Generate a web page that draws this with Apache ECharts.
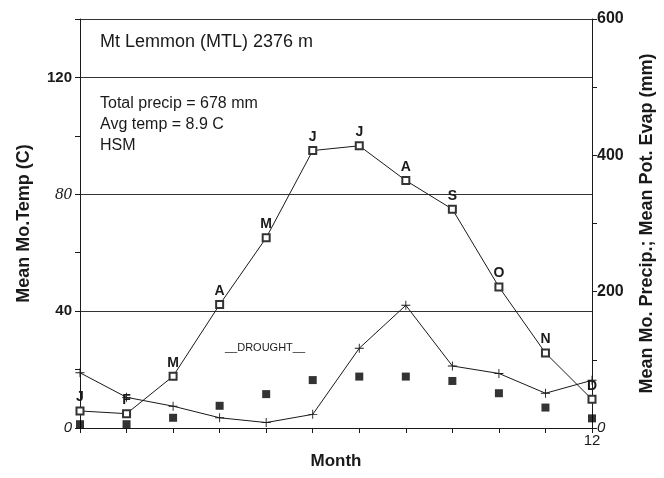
<!DOCTYPE html>
<html>
<head>
<meta charset="utf-8">
<script src="https://cdn.jsdelivr.net/npm/echarts@6/dist/echarts.min.js"></script>
<style>
html, body { margin: 0; padding: 0; background: #fff; }
#chart { width: 664px; height: 478px; }
</style>
</head>
<body>
<div id="chart"></div>
<script>
// months 1..12 and the letters drawn over the evap points
var months = [1, 2, 3, 4, 5, 6, 7, 8, 9, 10, 11, 12];
var monthLetters = ['J', 'F', 'M', 'A', 'M', 'J', 'J', 'A', 'S', 'O', 'N', 'D'];
// mean monthly temperature (C), left axis
var temp = [1.3, 1.3, 3.5, 7.6, 11.6, 16.4, 17.6, 17.6, 16.1, 11.9, 7.0, 3.3];
// mean monthly precipitation (mm), right axis
var precip = [81, 45, 32, 15, 8, 20, 117, 180, 91, 80, 51, 70];
// mean potential evapotranspiration (mm), right axis
var potEvap = [25, 21, 76, 181, 279, 407, 414, 363, 321, 207, 110, 42];
// tick labels that are printed
var tempLabels = [0, 40, 80, 120];
var mmLabels = [0, 200, 400, 600];

var font = 'Liberation Sans, Arial, Helvetica, sans-serif';
var ink = '#1a1a1a';

function pairs(vals) {
	return months.map(function (m, i) { return [m, vals[i]]; });
}

var chart = echarts.init(document.getElementById('chart'));

var option = {
	backgroundColor: '#fff',
	animation: false,
	grid: { left: 80, right: 70, top: 19, bottom: 50 },
	xAxis: {
		type: 'value',
		min: 1,
		max: 12,
		interval: 1,
		name: 'Month',
		nameLocation: 'middle',
		nameGap: 23,
		nameTextStyle: { fontFamily: font, fontSize: 17, fontWeight: 'bold', color: ink },
		axisLine: { lineStyle: { color: ink, width: 1 } },
		axisTick: { show: true, length: 5, lineStyle: { color: ink } },
		splitLine: { show: false },
		axisLabel: {
			margin: 5,
			fontFamily: font,
			fontSize: 15,
			color: ink,
			formatter: function (v) { return v === 12 ? '12' : ''; }
		}
	},
	yAxis: [
		{
			type: 'value',
			min: 0,
			max: 140,
			interval: 20,
			position: 'left',
			name: 'Mean Mo.Temp (C)',
			nameLocation: 'middle',
			nameGap: 47,
			nameTextStyle: { fontFamily: font, fontSize: 18, fontWeight: 'bold', color: ink },
			axisLine: { show: true, lineStyle: { color: ink, width: 1 } },
			axisTick: { show: true, length: 5, lineStyle: { color: ink } },
			splitLine: { show: false },
			axisLabel: {
				margin: 8,
				color: ink,
				formatter: function (v) {
					if (tempLabels.indexOf(v) < 0) return '';
					if (v === 0) return '{it|0}';
					if (v === 80) return '{sf|80}';
					return '{b|' + v + '}';
				},
				rich: {
					it: { fontFamily: font, fontStyle: 'italic', fontSize: 15, color: ink },
					b: { fontFamily: font, fontWeight: 'bold', fontSize: 15, color: ink },
					sf: { fontFamily: 'Liberation Serif, Times New Roman, serif', fontStyle: 'italic', fontSize: 17, color: ink }
				}
			}
		},
		{
			type: 'value',
			min: 0,
			max: 600,
			interval: 100,
			position: 'right',
			name: 'Mean Mo. Precip.; Mean Pot. Evap (mm)',
			nameLocation: 'middle',
			nameGap: 46,
			nameTextStyle: { fontFamily: font, fontSize: 18, fontWeight: 'bold', color: ink },
			axisLine: { show: true, lineStyle: { color: ink, width: 1 } },
			axisTick: { show: true, length: 5, lineStyle: { color: ink } },
			splitLine: { show: false },
			axisLabel: {
				margin: 5,
				color: ink,
				formatter: function (v) {
					if (mmLabels.indexOf(v) < 0) return '';
					if (v === 0) return '{it|0}';
					return '{b|' + v + '}';
				},
				rich: {
					it: { fontFamily: font, fontStyle: 'italic', fontSize: 15, color: ink },
					b: { fontFamily: font, fontWeight: 'bold', fontSize: 16, color: ink }
				}
			}
		},
		{
			// grid lines only
			type: 'value',
			min: 0,
			max: 140,
			interval: 40,
			show: true,
			position: 'left',
			axisLine: { show: false },
			axisTick: { show: false },
			axisLabel: { show: false },
			splitLine: { show: true, lineStyle: { color: '#333', width: 1 } }
		}
	],
	graphic: [
		{ type: 'text', left: 100, top: 33, style: { text: 'Mt Lemmon (MTL) 2376 m', font: '18px ' + font, fill: ink } },
		{ type: 'text', left: 100, top: 96, style: { text: 'Total precip = 678 mm', font: '16px ' + font, fill: ink } },
		{ type: 'text', left: 100, top: 117, style: { text: 'Avg temp = 8.9 C', font: '16px ' + font, fill: ink } },
		{ type: 'text', left: 100, top: 138, style: { text: 'HSM', font: '16px ' + font, fill: ink } },
		{ type: 'text', left: 225, top: 342, style: { text: '__DROUGHT__', font: '11px ' + font, fill: ink } }
	],
	series: [
		{
			name: 'Pot. Evap',
			type: 'line',
			yAxisIndex: 1,
			data: pairs(potEvap),
			symbol: 'emptyRect',
			symbolSize: 7,
			lineStyle: { color: ink, width: 1 },
			itemStyle: { color: '#333', borderWidth: 1 },
			label: {
				show: true,
				position: 'top',
				distance: 2,
				fontFamily: font,
				fontWeight: 'bold',
				fontSize: 14,
				color: ink,
				formatter: function (p) { return monthLetters[p.dataIndex]; }
			},
			z: 4
		},
		{
			name: 'Precip',
			type: 'line',
			yAxisIndex: 1,
			data: pairs(precip),
			symbol: 'path://M4.5,0h1v4.5h4.5v1h-4.5v4.5h-1v-4.5h-4.5v-1h4.5z',
			symbolSize: 9,
			lineStyle: { color: ink, width: 1 },
			itemStyle: { color: ink },
			z: 3
		},
		{
			name: 'Temp',
			type: 'scatter',
			yAxisIndex: 0,
			data: pairs(temp),
			symbol: 'rect',
			symbolSize: 8,
			itemStyle: { color: '#000' },
			z: 3
		}
	]
};

chart.setOption(option);
window.addEventListener('resize', function () {
	chart.resize();
});
</script>
</body>
</html>
